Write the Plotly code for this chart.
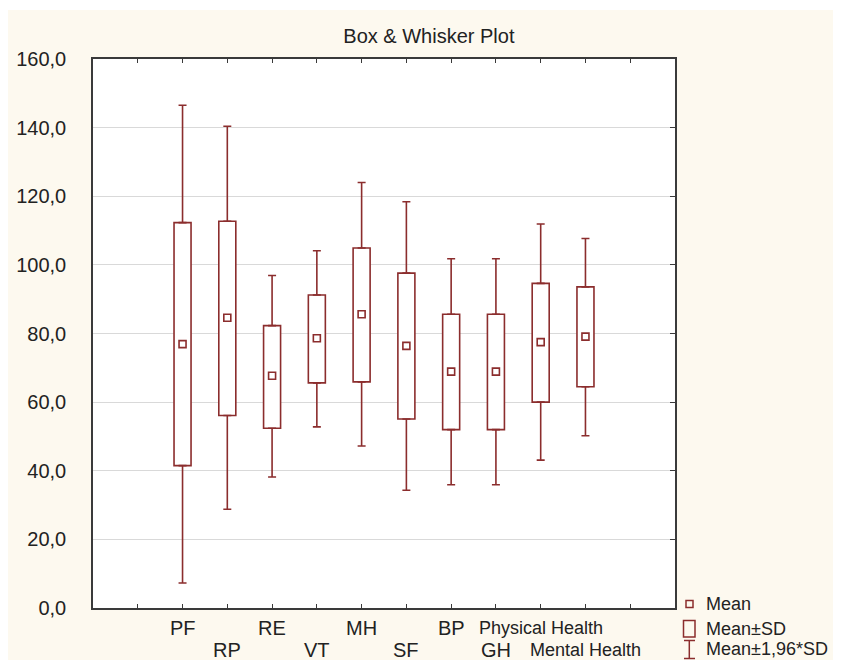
import plotly.graph_objects as go

# ---- data ----
categories = ["PF", "RP", "RE", "VT", "MH", "SF", "BP", "GH", "Physical Health", "Mental Health"]
label_row = [1, 2, 1, 2, 1, 2, 1, 2, 1, 2]
means = [76.9, 84.6, 67.7, 78.6, 85.6, 76.4, 68.9, 68.9, 77.5, 79.1]
sd_low = [41.5, 56.1, 52.4, 65.6, 65.9, 55.1, 52.0, 52.0, 60.0, 64.5]
sd_high = [112.3, 112.7, 82.3, 91.2, 104.9, 97.6, 85.6, 85.6, 94.6, 93.6]
ci_low = [7.3, 28.8, 38.2, 52.8, 47.2, 34.3, 35.9, 35.9, 43.1, 50.2]
ci_high = [146.5, 140.4, 96.9, 104.1, 124.0, 118.4, 101.8, 101.8, 111.9, 107.7]
y_ticks = [0, 20, 40, 60, 80, 100, 120, 140, 160]
legend_labels = ["Mean", "Mean\u00b1SD", "Mean\u00b11,96*SD"]
title_text = "Box & Whisker Plot"

# ---- styling ----
RED = "#8b2d2d"
AX = "#3a3a3a"
TXT = "#222222"
CREAM = "#fdf9ef"
FONT = "Liberation Sans, Arial, sans-serif"

# page offset of the figure (body margin) and figure size
OX, OY = 8, 8
W, H = 833, 652
# plot area in page pixels: x 93..675, y 59..608
L, T = 93 - OX, 59 - OY
R = W - (675 - OX)
B = H - (608 - OY)
PW, PH = W - L - R, H - T - B


def px_x(px):
    """page pixel x -> paper coordinate"""
    return (px - OX - L) / PW


def px_y(py):
    """page pixel y -> paper coordinate"""
    return (T + PH - (py - OY)) / PH


positions = list(range(2, 2 + len(categories)))

fig = go.Figure()

# Mean ± SD boxes
fig.add_trace(go.Bar(
    x=positions,
    base=sd_low,
    y=[h - l for h, l in zip(sd_high, sd_low)],
    width=0.38,
    marker=dict(color="white", line=dict(color=RED, width=1.6)),
    hoverinfo="skip",
))

# upper whiskers (Mean + 1.96 SD)
fig.add_trace(go.Scatter(
    x=positions, y=sd_high, mode="markers",
    marker=dict(opacity=0, size=2),
    error_y=dict(type="data", symmetric=False,
                 array=[c - s for c, s in zip(ci_high, sd_high)],
                 arrayminus=[0] * len(categories),
                 color=RED, thickness=1.6, width=4),
    hoverinfo="skip",
))
# lower whiskers (Mean - 1.96 SD)
fig.add_trace(go.Scatter(
    x=positions, y=sd_low, mode="markers",
    marker=dict(opacity=0, size=2),
    error_y=dict(type="data", symmetric=False,
                 array=[0] * len(categories),
                 arrayminus=[s - c for s, c in zip(sd_low, ci_low)],
                 color=RED, thickness=1.6, width=4),
    hoverinfo="skip",
))
# means
fig.add_trace(go.Scatter(
    x=positions, y=means, mode="markers",
    marker=dict(symbol="square-open", size=7, color=RED, line=dict(width=1.6, color=RED)),
))
# dummy trace for right axis ticks
fig.add_trace(go.Scatter(x=[None], y=[None], yaxis="y2", hoverinfo="skip"))

# x labels (staggered)
row_center = {1: 627.8, 2: 650.0}
for pos, lab, row in zip(positions, categories, label_row):
    long = len(lab) > 4
    fig.add_annotation(
        x=pos, xref="x", y=px_y(row_center[row]), yref="paper",
        text=lab, showarrow=False, xanchor="center", yanchor="middle",
        font=dict(family=FONT, size=18 if long else 20, color=TXT),
    )

shapes = []
# thin white strip above the cream background
shapes.append(dict(type="rect", xref="paper", yref="paper", layer="above",
                   x0=px_x(0), x1=px_x(841), y0=px_y(8), y1=px_y(10),
                   fillcolor="white", line=dict(width=0)))

# custom legend symbols
shapes.append(dict(type="rect", xref="paper", yref="paper",
                   x0=px_x(686), x1=px_x(693), y0=px_y(607.5), y1=px_y(600.5),
                   line=dict(color=RED, width=1.5), fillcolor="rgba(0,0,0,0)"))
shapes.append(dict(type="rect", xref="paper", yref="paper",
                   x0=px_x(683.5), x1=px_x(695), y0=px_y(637), y1=px_y(620.5),
                   line=dict(color=RED, width=1.5), fillcolor="rgba(0,0,0,0)"))
shapes.append(dict(type="line", xref="paper", yref="paper",
                   x0=px_x(689.3), x1=px_x(689.3), y0=px_y(640.5), y1=px_y(658.5),
                   line=dict(color=RED, width=1.5)))
for yy in (640.5, 658.5):
    shapes.append(dict(type="line", xref="paper", yref="paper",
                       x0=px_x(684), x1=px_x(695), y0=px_y(yy), y1=px_y(yy),
                       line=dict(color=RED, width=1.5)))

for lab, cy in zip(legend_labels, (604, 629, 649)):
    fig.add_annotation(
        x=px_x(704), xref="paper", y=px_y(cy), yref="paper",
        text=lab, showarrow=False, xanchor="left", yanchor="middle",
        font=dict(family=FONT, size=18, color=TXT),
    )

fig.update_layout(
    width=W, height=H,
    margin=dict(l=L, r=R, t=T, b=B, pad=0, autoexpand=False),
    paper_bgcolor=CREAM,
    plot_bgcolor="white",
    showlegend=False,
    separators=", ",
    font=dict(family=FONT, color=TXT, size=20),
    title=dict(text=title_text, x=(428.9 - OX) / W, xanchor="center", xref="container",
               y=1 - (36 - OY) / H, yanchor="middle", yref="container",
               font=dict(family=FONT, size=20, color=TXT)),
    shapes=shapes,
    xaxis=dict(range=[0, len(categories) + 3], tickvals=list(range(1, len(categories) + 3)),
               ticktext=[""] * (len(categories) + 2), automargin=False,
               ticks="inside", ticklen=4, tickwidth=1.2, tickcolor=AX,
               showline=True, linecolor=AX, linewidth=1.5, mirror="ticks",
               showgrid=False, zeroline=False, fixedrange=True),
    yaxis=dict(range=[0, 160], tickvals=y_ticks, tickformat=".1f", automargin=False,
               ticks="", showline=True, linecolor=AX, linewidth=1.5, mirror=True,
               showgrid=True, gridcolor="#d9d9d9", gridwidth=1, zeroline=False,
               ticklabelstandoff=21,
               tickfont=dict(family=FONT, size=20, color=TXT)),
    yaxis2=dict(range=[0, 160], tickvals=y_ticks, overlaying="y", side="right",
                automargin=False,
                ticks="inside", ticklen=5, tickwidth=1.2, tickcolor=AX,
                showticklabels=False, showgrid=False, zeroline=False, showline=False),
)

fig.write_html("out.html")
